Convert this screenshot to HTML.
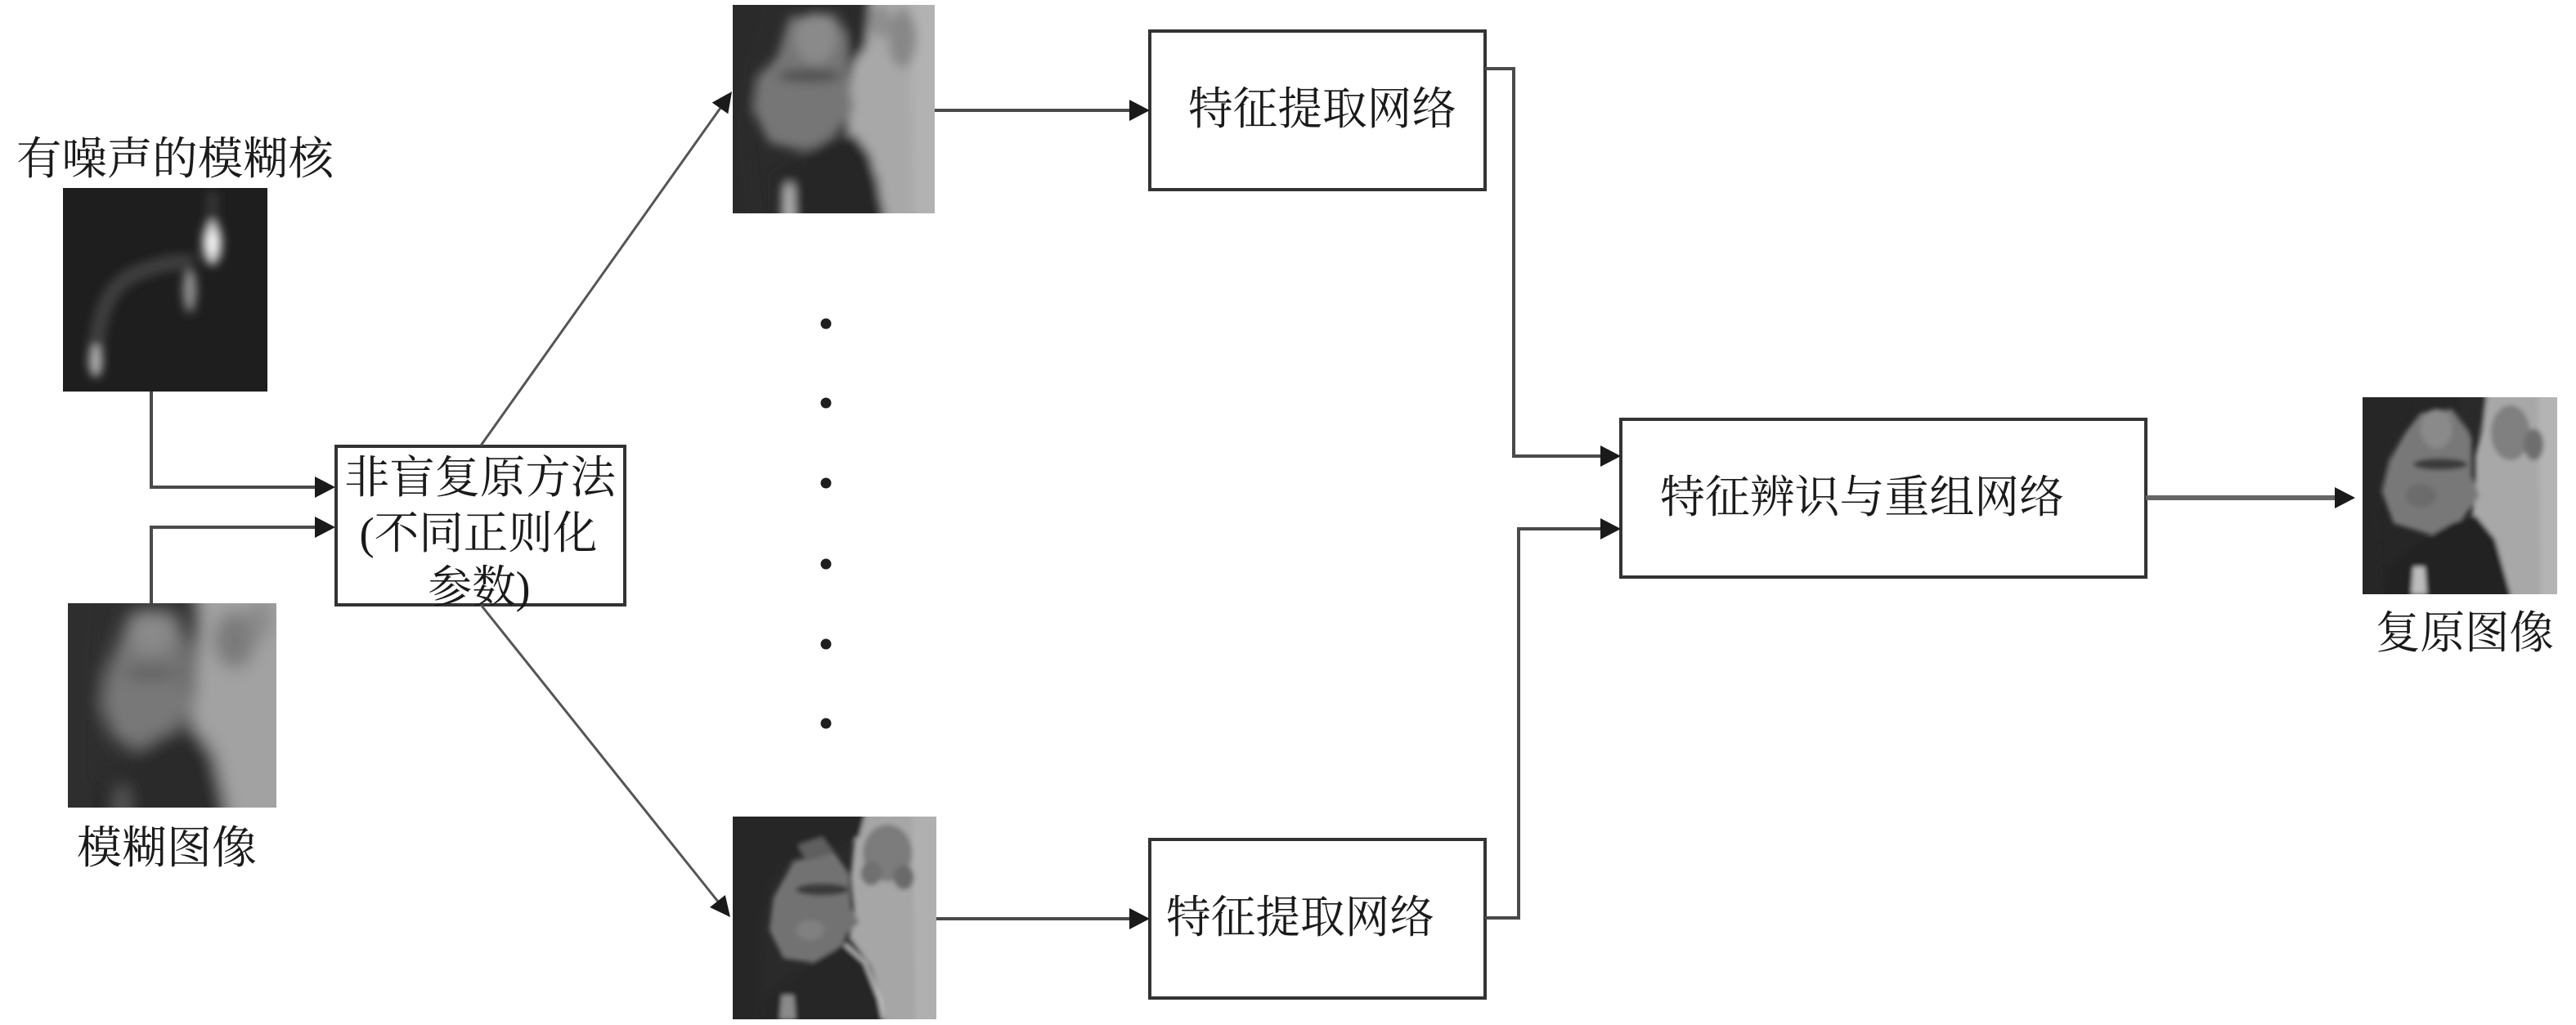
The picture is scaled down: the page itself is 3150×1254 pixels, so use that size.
<!DOCTYPE html>
<html><head><meta charset="utf-8"><style>
html,body{margin:0;padding:0;background:#fff;}
body{width:3150px;height:1254px;overflow:hidden;}
svg{display:block;}
text{font-family:"Liberation Serif","Noto Serif CJK SC","Noto Sans CJK SC",serif;fill:#1a1a1a;font-size:55px;}
</style></head><body>
<svg width="3150" height="1254" viewBox="0 0 3150 1254" xmlns="http://www.w3.org/2000/svg">
<defs>
<filter id="bk" x="-0.5" y="-0.5" width="2" height="2"><feGaussianBlur stdDeviation="2.2"/></filter>
<filter id="b2" x="-0.5" y="-0.5" width="2" height="2"><feGaussianBlur stdDeviation="2.5"/></filter>
<filter id="b4" x="-0.5" y="-0.5" width="2" height="2"><feGaussianBlur stdDeviation="4"/></filter>
<filter id="b07" x="-0.5" y="-0.5" width="2" height="2"><feGaussianBlur stdDeviation="1.2"/></filter>
</defs>

<!-- Labels -->
<text x="20" y="213" textLength="388" lengthAdjust="spacingAndGlyphs">有噪声的模糊核</text>
<text x="94" y="1056" textLength="220" lengthAdjust="spacingAndGlyphs">模糊图像</text>
<text x="2905" y="793" textLength="218" lengthAdjust="spacingAndGlyphs">复原图像</text>

<!-- Kernel image -->
<svg x="77" y="230" width="250" height="249" viewBox="0 0 100 100" preserveAspectRatio="none">
  <rect x="-20" y="-20" width="140" height="140" fill="#1e1e1e"/>
  <g filter="url(#bk)">
    <path d="M16,80 C18,58 24,46 38,41 S56,36 64,37" stroke="#3c3c3c" stroke-width="8" fill="none"/>
    <path d="M73,2 L73,22" stroke="#343434" stroke-width="6"/>
    <path d="M62,40 L62,62" stroke="#404040" stroke-width="6"/>
    <ellipse cx="73" cy="27" rx="5" ry="11" fill="#bdbdbd"/>
    <ellipse cx="73" cy="27" rx="2.5" ry="6" fill="#f4f4f4"/>
    <ellipse cx="62" cy="50" rx="3.5" ry="9" fill="#8a8a8a"/>
    <ellipse cx="16" cy="85" rx="3.5" ry="8" fill="#a8a8a8"/>
  </g>
</svg>

<!-- Blurred input image -->
<svg x="83" y="738" width="255" height="250" viewBox="0 0 100 100" preserveAspectRatio="none">
  <rect x="-20" y="-20" width="140" height="140" fill="#2e2e2e"/>
  <g filter="url(#b4)">
    <polygon points="60,-20 120,-20 120,120 78,120 72,85 66,72 58,62 60,48 60,30 62,10" fill="#a2a2a2"/>
    <ellipse cx="80" cy="18" rx="10" ry="14" fill="#7a7a7a"/>
    <ellipse cx="92" cy="8" rx="6" ry="10" fill="#8a8a8a"/>
    <polygon points="30,4 52,4 58,20 58,40 60,52 54,60 46,68 34,72 22,66 16,50 18,35 24,20" fill="#787878"/>
    <ellipse cx="40" cy="14" rx="10" ry="11" fill="#8a8a8a"/>
    <ellipse cx="40" cy="34" rx="14" ry="3" fill="#5a5a5a"/>
    <polygon points="-20,-20 20,-20 16,20 14,50 14,120 -20,120" fill="#2e2e2e"/>
    <polygon points="46,64 60,60 70,74 76,100 76,120 10,120 12,90 30,74" fill="#2a2a2a"/>
    <polygon points="24,90 28,90 29,120 23,120" fill="#6a6a6a"/>
  </g>
</svg>

<!-- Top restored image -->
<svg x="896" y="6" width="247" height="255" viewBox="0 0 100 100" preserveAspectRatio="none">
  <rect x="-20" y="-20" width="140" height="140" fill="#2b2b2b"/>
  <g filter="url(#b2)">
    <polygon points="68,-20 120,-20 120,120 76,120 72,85 66,70 56,62 58,50 58,34 62,18" fill="#a8a8a8"/>
    <polygon points="88,-20 120,-20 120,120 90,120" fill="#b2b2b2"/>
    <ellipse cx="84" cy="16" rx="7" ry="14" fill="#888"/>
    <ellipse cx="73" cy="8" rx="5" ry="8" fill="#8e8e8e"/>
    <polygon points="28,6 50,4 57,15 57,35 60,50 54,58 48,66 35,70 18,66 10,50 12,35 22,25" fill="#767676"/>
    <ellipse cx="41" cy="16" rx="10" ry="12" fill="#8a8a8a"/>
    <ellipse cx="38" cy="34" rx="16" ry="3" fill="#4e4e4e"/>
    <polygon points="-20,-20 26,-20 18,12 10,32 7,60 14,120 -20,120" fill="#2b2b2b"/>
    <polygon points="56,-20 70,-20 66,20 58,30 56,12" fill="#2b2b2b"/>
    <polygon points="48,64 60,62 68,72 75,100 75,120 22,120 20,82 35,72" fill="#282828"/>
    <polygon points="26,86 30,86 31,120 25,120" fill="#c0c0c0"/>
  </g>
</svg>

<!-- Bottom restored image -->
<svg x="896" y="999" width="249" height="248" viewBox="0 0 100 100" preserveAspectRatio="none">
  <rect x="-20" y="-20" width="140" height="140" fill="#2a2a2a"/>
  <g filter="url(#b07)">
    <polygon points="62,-20 120,-20 120,120 76,120 72,88 64,74 56,64 60,50 58,30 60,10" fill="#a6a6a6"/>
    <polygon points="88,-20 120,-20 120,120 90,120" fill="#b0b0b0"/>
    <ellipse cx="76" cy="18" rx="12" ry="14" fill="#7c7c7c"/>
    <ellipse cx="84" cy="30" rx="5" ry="6" fill="#6a6a6a"/>
    <ellipse cx="68" cy="28" rx="5" ry="6" fill="#707070"/>
    <polygon points="30,22 50,18 57,28 58,45 62,52 56,58 52,68 40,72 25,70 18,56 20,40" fill="#727272"/>
    <ellipse cx="44" cy="36" rx="13" ry="3" fill="#3a3a3a"/>
    <ellipse cx="38" cy="56" rx="7" ry="5" fill="#808080"/>
    <polygon points="-20,-20 70,-20 62,10 50,16 30,20 20,30 14,50 12,120 -20,120" fill="#262626"/>
    <polygon points="32,14 44,10 50,18 36,22" fill="#5e5e5e"/>
    <polygon points="50,66 58,60 68,74 75,100 75,120 10,120 14,90 36,74" fill="#252525"/>
    <path d="M55,63 L65,72 L72,90 L74,100" stroke="#d8d8d8" stroke-width="1.2" fill="none"/>
    <polygon points="24,88 30,88 31,100 23,100" fill="#8a8a8a"/>
  </g>
</svg>

<!-- Final restored image -->
<svg x="2889" y="486" width="238" height="241" viewBox="0 0 100 100" preserveAspectRatio="none">
  <rect x="-20" y="-20" width="140" height="140" fill="#262626"/>
  <g filter="url(#b07)">
    <polygon points="64,-20 120,-20 120,120 76,120 72,86 64,72 56,62 58,48 58,30 62,14" fill="#a8a8a8"/>
    <polygon points="90,-20 120,-20 120,120 92,120" fill="#b4b4b4"/>
    <ellipse cx="76" cy="18" rx="10" ry="14" fill="#808080"/>
    <ellipse cx="88" cy="24" rx="5" ry="8" fill="#6e6e6e"/>
    <polygon points="30,8 46,6 56,20 56,40 60,50 54,58 48,66 36,70 16,64 10,48 14,32 22,18" fill="#787878"/>
    <ellipse cx="38" cy="16" rx="8" ry="10" fill="#8a8a8a"/>
    <ellipse cx="40" cy="34" rx="14" ry="3" fill="#3a3a3a"/>
    <ellipse cx="30" cy="50" rx="8" ry="6" fill="#6c6c6c"/>
    <polygon points="-20,-20 30,-20 22,10 14,28 8,50 10,120 -20,120" fill="#262626"/>
    <polygon points="50,-20 66,-20 62,14 56,22 50,8" fill="#2a2a2a"/>
    <polygon points="46,64 58,60 68,72 76,100 76,120 8,120 12,88 32,72" fill="#242424"/>
    <polygon points="26,86 32,86 33,100 25,100" fill="#bcbcbc"/>
  </g>
</svg>

<!-- Boxes -->
<g fill="#fff" stroke="#333" stroke-width="4">
  <rect x="411" y="546" width="353" height="194"/>
  <rect x="1406" y="38" width="410" height="194"/>
  <rect x="1406" y="1027" width="410" height="194"/>
  <rect x="1982" y="513" width="642" height="193"/>
</g>

<text x="587" y="603" text-anchor="middle" textLength="332" lengthAdjust="spacingAndGlyphs">非盲复原方法</text>
<text x="585" y="671" text-anchor="middle" textLength="291" lengthAdjust="spacingAndGlyphs">(不同正则化</text>
<text x="586" y="737" text-anchor="middle" textLength="125" lengthAdjust="spacingAndGlyphs">参数)</text>
<text x="1453" y="152" textLength="328" lengthAdjust="spacingAndGlyphs">特征提取网络</text>
<text x="1426" y="1141" textLength="328" lengthAdjust="spacingAndGlyphs">特征提取网络</text>
<text x="2030" y="627" textLength="494" lengthAdjust="spacingAndGlyphs">特征辨识与重组网络</text>

<!-- Connectors -->
<g fill="none" stroke="#4a4a4a" stroke-width="4" stroke-linejoin="miter">
  <polyline points="185,479 185,596 388,596"/>
  <polyline points="185,738 185,645 388,645"/>
  <polyline points="1143,135 1384,135"/>
  <polyline points="1145,1124 1384,1124"/>
  <polyline points="1816,84 1851,84 1851,558 1960,558"/>
  <polyline points="1816,1123 1857,1123 1857,647 1960,647"/>
  <polyline points="2624,609 2858,609" stroke="#666" stroke-width="6"/>
</g>
<g fill="none" stroke="#555" stroke-width="3">
  <line x1="588" y1="545" x2="881" y2="132"/>
  <line x1="588" y1="740" x2="878" y2="1103"/>
</g>

<!-- Arrowheads -->
<g fill="#1a1a1a">
  <polygon points="410,596 385,583 385,609"/>
  <polygon points="410,645 385,632 385,658"/>
  <polygon points="1406,135 1381,122 1381,148"/>
  <polygon points="1406,1124 1381,1111 1381,1137"/>
  <polygon points="1982,558 1957,545 1957,571"/>
  <polygon points="1982,647 1957,634 1957,660"/>
  <polygon points="2880,609 2855,596 2855,622"/>
  <polygon points="895,112 890.3,139.3 870.7,125.5"/>
  <polygon points="893,1122 868,1110 886.8,1095"/>
</g>

<!-- Dots -->
<g fill="#1e1e1e">
  <circle cx="1010" cy="396" r="6.5"/>
  <circle cx="1010" cy="493" r="6.5"/>
  <circle cx="1010" cy="591" r="6.5"/>
  <circle cx="1010" cy="690" r="6.5"/>
  <circle cx="1010" cy="788" r="6.5"/>
  <circle cx="1010" cy="885" r="6.5"/>
</g>
</svg>
</body></html>
